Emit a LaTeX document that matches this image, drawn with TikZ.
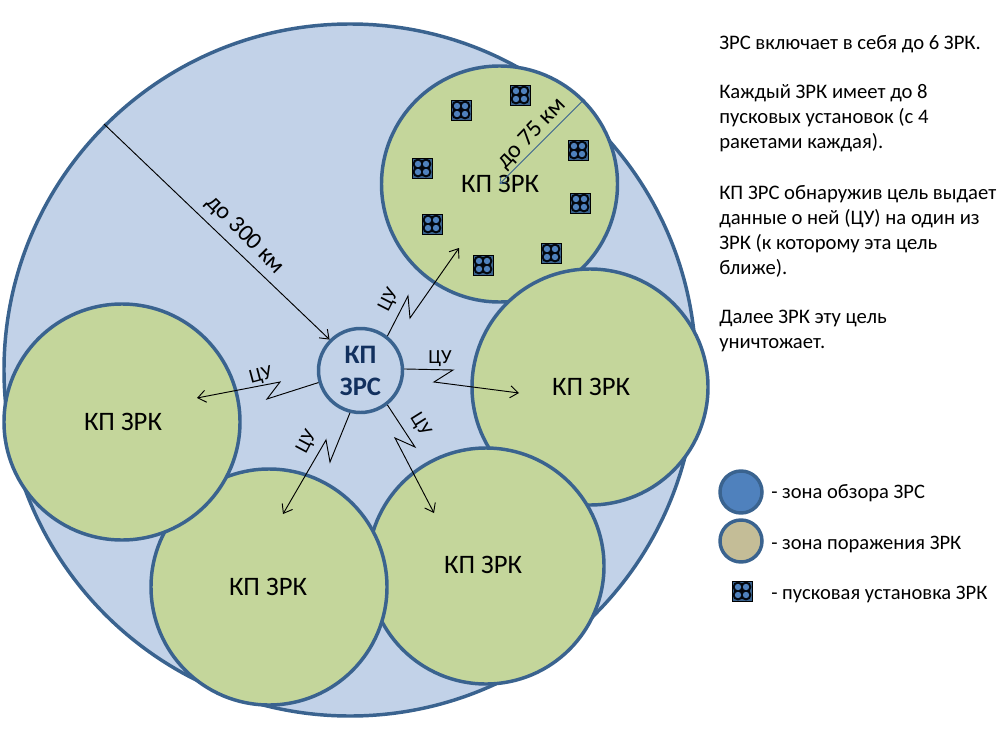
\documentclass[tikz,border=0pt]{standalone}
\usepackage{fontspec}
\setmainfont{Carlito}
\usetikzlibrary{arrows.meta,calc}
\definecolor{bigfill}{HTML}{C2D2E8}
\definecolor{zrkfill}{HTML}{C4D69B}
\definecolor{edge}{HTML}{3A638F}
\definecolor{navy}{HTML}{12305E}
\definecolor{blue1}{HTML}{4F81BD}
\definecolor{tan1}{HTML}{C4BD97}
\tikzset{
  x=0.75pt,y=-0.75pt,
  disc/.style={circle,draw=edge,line width=2.6pt,inner sep=0pt,minimum size=#1*0.75pt,fill=zrkfill},
  zrk/.style={disc=236},
  zrktext/.style={font=\fontsize{20}{24}\selectfont,inner sep=0pt},
  cu/.style={draw=black,line width=0.7pt,-{Straight Barb[length=6pt,width=9pt]}},
  lbl/.style={font=\fontsize{15}{18}\selectfont,inner sep=0pt},
  rangelbl/.style={font=\fontsize{18}{21}\selectfont,inner sep=0pt},
  note/.style={font=\fontsize{15.5}{18.75}\selectfont,inner sep=0pt,anchor=north west,align=left},
  leg/.style={font=\fontsize{15.4}{18}\selectfont,inner sep=0pt,anchor=west},
}
\newcommand{\launcher}[3]{%
  \node[draw=black,line width=0.6pt,fill=edge,minimum size=15pt,inner sep=0pt] (#1) at (#2,#3) {};
  \foreach \dx/\dy in {-4/-4,4/-4,-4/4,4/4}{
    \fill[black!85!navy] ($(#2,#3)+(\dx,\dy)$) circle[radius=5.4];
  }
  \foreach \dx/\dy in {-4/-4,4/-4,-4/4,4/4}{
    \fill[blue1] ($(#2,#3)+(\dx,\dy)$) circle[radius=3.2];
  }
}
\begin{document}
\begin{tikzpicture}
\useasboundingbox (0,0) rectangle (1003,742);
\fill[white] (0,0) rectangle (1003,742);
\node[disc=692,fill=bigfill] (big) at (350,370) {};
\node[zrk] (zt) at (499.5,184) {};
\node[zrk] (zr) at (590,387) {};
\node[zrk] (zb2) at (486,566) {};
\node[zrk] (zb1) at (269,587) {};
\node[zrk] (zl) at (122,422) {};
\node[zrktext] at (500,184) {КП ЗРК};
\node[zrktext] at (591,387) {КП ЗРК};
\node[zrktext] at (123,422) {КП ЗРК};
\node[zrktext] at (268,587) {КП ЗРК};
\node[zrktext] at (483,565) {КП ЗРК};
\node[disc=84,fill=bigfill,text=navy,font=\fontsize{20}{24}\selectfont\bfseries,align=center] (zrs) at (360.5,370.5) {КП\\ЗРС};
\launcher{l1}{461}{110}
\launcher{l2}{520}{95}
\launcher{l3}{578}{150}
\launcher{l4}{580}{203}
\launcher{l5}{551}{253}
\launcher{l6}{483}{265}
\launcher{l7}{432}{224}
\launcher{l8}{422}{168}
\draw[cu] (big.135) -- (zrs.north west);
\node[rangelbl,rotate=-45] at (245,235) {до 300 км};
\draw[draw=edge,line width=0.6pt,-{Straight Barb[length=4pt,width=6pt]}] (zt.45) -- (zt.center);
\node[rangelbl,rotate=46] at (532,134) {до 75 км};
\coordinate (a1) at (408,296); \coordinate (a2) at (410,318); \coordinate (a3) at (459,248);
\draw[cu] (zrs.52) -- (a1) -- (a2) -- (a3);
\coordinate (b1) at (453,370); \coordinate (b2) at (434,382); \coordinate (b3) at (519,393);
\draw[cu] (zrs.2) -- (b1) -- (b2) -- (b3);
\coordinate (c1) at (415,447); \coordinate (c2) at (395,438); \coordinate (c3) at (434,513);
\draw[cu] (zrs.-52) -- (c1) -- (c2) -- (c3);
\coordinate (d1) at (330,462); \coordinate (d2) at (326,440); \coordinate (d3) at (283,514);
\draw[cu] (zrs.-104) -- (d1) -- (d2) -- (d3);
\coordinate (e1) at (267,399); \coordinate (e2) at (280,382); \coordinate (e3) at (197,398);
\draw[cu] (zrs.196) -- (e1) -- (e2) -- (e3);
\node[lbl,rotate=63] at (389,300) {ЦУ};
\node[lbl] at (440,359) {ЦУ};
\node[lbl,rotate=-58] at (420,425) {ЦУ};
\node[lbl,rotate=62] at (307,442) {ЦУ};
\node[lbl,rotate=15] at (261,376) {ЦУ};
\node[note] at (719,35) {ЗРС включает в себя до 6 ЗРК.};
\node[note] at (719,84) {Каждый ЗРК имеет до 8\\пусковых установок (с 4\\ракетами каждая).};
\node[note] at (719,185) {КП ЗРС обнаружив цель выдает\\данные о ней (ЦУ) на один из\\ЗРК (к которому эта цель\\ближе).};
\node[note] at (719,310) {Далее ЗРК эту цель\\уничтожает.};
\node[disc=42,fill=blue1] (k1) at (741,492) {};
\node[disc=42,fill=tan1] (k2) at (741,541) {};
\launcher{k3}{742}{591}
\node[leg] at (771,493) {- зона обзора ЗРС};
\node[leg] at (771,544) {- зона поражения ЗРК};
\node[leg] at (771,594) {- пусковая установка ЗРК};
\end{tikzpicture}
\end{document}
